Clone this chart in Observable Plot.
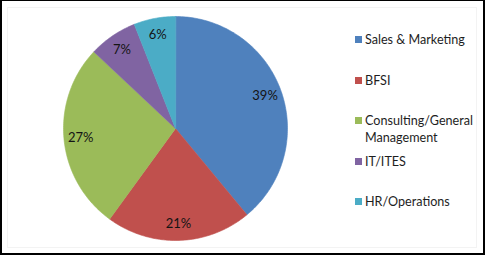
<!DOCTYPE html>
<html>
<head>
<meta charset="utf-8">
<script src="https://cdn.jsdelivr.net/npm/d3@7"></script>
<script src="https://cdn.jsdelivr.net/npm/@observablehq/plot@0.6"></script>
<style>
  html, body { margin: 0; padding: 0; background: #fff; }
  #wrap { position: relative; width: 485px; height: 255px; overflow: hidden; background: #fff; }
  #wrap svg { position: absolute; left: 0; top: 0; }
  #frame { position: absolute; left: 0; top: 0; width: 485px; height: 255px; box-sizing: border-box;
           border-style: solid; border-color: #000; border-width: 1px 2px 2px 2px; pointer-events: none; }
  #inner { position: absolute; left: 7px; top: 7px; width: 470px; height: 241px; box-sizing: border-box;
           border: 1px solid #f3f3f3; pointer-events: none; }
  .leg { position: absolute; left: 355px; font-family: Lato, "Open Sans", sans-serif; font-size: 12.6px;
         line-height: 17px; color: #1e1e1e; }
  .leg .sw { position: absolute; left: 0; top: 5px; width: 7px; height: 7px; }
  .leg .tx { margin-left: 10px; white-space: nowrap; }
</style>
</head>
<body>
<div id="wrap"><div id="inner"></div></div>
<script>
// ---- data ----
const categories = ["Sales & Marketing", "BFSI", "Consulting/General Management", "IT/ITES", "HR/Operations"];
const legendLabels = [["Sales & Marketing"], ["BFSI"], ["Consulting/General", "Management"], ["IT/ITES"], ["HR/Operations"]];
const values = [39, 21, 27, 7, 6];
const colors = ["#4F81BD", "#C0504D", "#9BBB59", "#8064A2", "#4BACC6"];

// ---- build slice outlines (angles from 12 o'clock, clockwise) ----
const total = d3.sum(values);
const pts = [];
const labels = [];
let cum = 0;
values.forEach((v, i) => {
  const a0 = cum / total * 2 * Math.PI;
  const a1 = (cum + v) / total * 2 * Math.PI;
  cum += v;
  const n = Math.max(8, Math.ceil((a1 - a0) / (Math.PI / 180)));
  pts.push({cat: categories[i], x: 0, y: 0});
  for (let k = 0; k <= n; k++) {
    const a = a0 + (a1 - a0) * k / n;
    pts.push({cat: categories[i], x: Math.sin(a), y: Math.cos(a)});
  }
  const m = (a0 + a1) / 2;
  labels.push({cat: categories[i], x: 0.85 * Math.sin(m), y: 0.85 * Math.cos(m), text: v + "%"});
});

const chart = Plot.plot({
  width: 485,
  height: 255,
  marginLeft: 63,
  marginRight: 198,
  marginTop: 16,
  marginBottom: 15,
  x: {domain: [-1, 1], axis: null},
  y: {domain: [-1, 1], axis: null},
  color: {domain: categories, range: colors},
  style: {background: "transparent"},
  marks: [
    Plot.line(pts, {x: "x", y: "y", z: "cat", fill: "cat", stroke: "cat", strokeWidth: 0.6, curve: "linear-closed"}),
    Plot.text(labels, {x: "x", y: "y", text: "text", fontSize: 13, fontFamily: "Lato, 'Open Sans', sans-serif", fill: "#141414"})
  ]
});

const wrap = document.getElementById("wrap");
wrap.appendChild(chart);

// ---- legend ----
const legendTops = [31, 71.5, 111.5, 152.5, 192.5];
legendLabels.forEach((lines, i) => {
  const d = document.createElement("div");
  d.className = "leg";
  d.style.top = legendTops[i] + "px";
  const sw = document.createElement("div");
  sw.className = "sw";
  sw.style.background = colors[i];
  d.appendChild(sw);
  lines.forEach(t => {
    const tx = document.createElement("div");
    tx.className = "tx";
    tx.textContent = t;
    d.appendChild(tx);
  });
  wrap.appendChild(d);
});

const frame = document.createElement("div");
frame.id = "frame";
wrap.appendChild(frame);
</script>
</body>
</html>
